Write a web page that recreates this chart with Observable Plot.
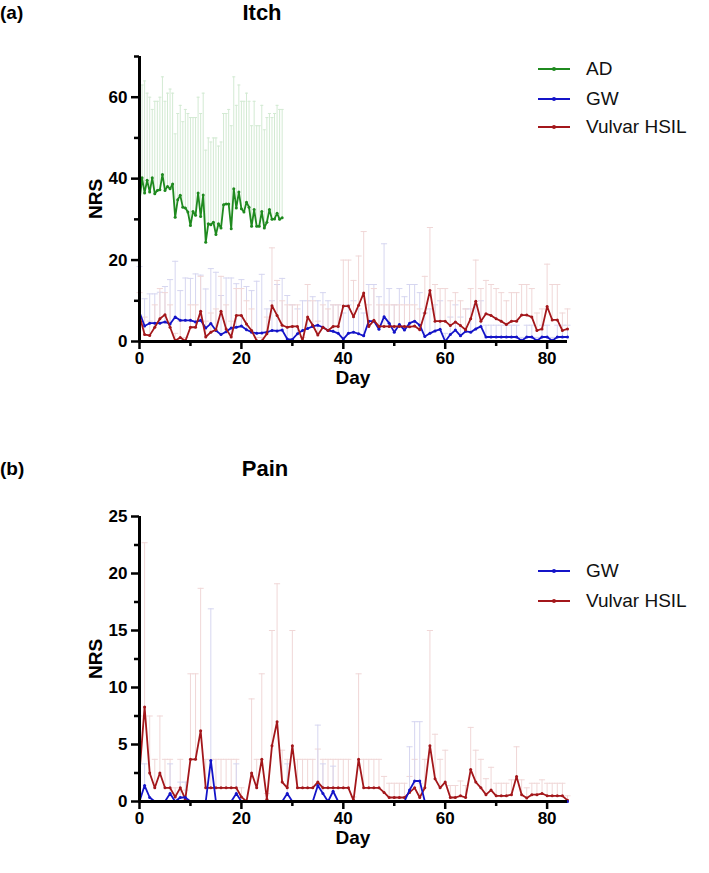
<!DOCTYPE html>
<html><head><meta charset="utf-8">
<script src="https://cdn.jsdelivr.net/npm/d3@7"></script>
<script src="https://cdn.jsdelivr.net/npm/@observablehq/plot@0.6"></script>
<style>
body{margin:0;background:#fff;width:709px;height:873px;position:relative;overflow:hidden;font-family:"Liberation Sans",Arial,sans-serif;}
.abs{position:absolute;white-space:nowrap;}
.plabel{font-weight:bold;font-size:19px;font-family:"Liberation Sans Narrow","Liberation Sans",Arial,sans-serif;}
.title{font-weight:bold;font-size:22px;transform:translateX(-50%);font-family:"Liberation Sans Narrow","Liberation Sans",Arial,sans-serif;}
.axlab{font-weight:bold;font-size:19px;line-height:20px;}
.xlab{transform:translateX(-50%);}
.ylab{transform:translate(-50%,-50%) rotate(-90deg);}
.leg{font-size:19px;color:#111;display:flex;align-items:center;}
.leg svg{margin-right:16px;}
</style></head><body>
<script>
// ---------- data ----------
const days = d3.range(0, 85);            // study day 0..84
const adDays = d3.range(0, 28.5, 0.5);   // AD recorded twice daily, day 0..28

const seriesNames = ["AD", "GW", "Vulvar HSIL"];
const seriesColors = {"AD": "#1f8a1f", "GW": "#1414c8", "Vulvar HSIL": "#a3171b"};
const errColors = {"AD": "#d3ead3", "GW": "#d6d6f0", "Vulvar HSIL": "#f0d7d7"};

const itchAD = [34.2,40.2,36.5,39.6,36.7,40.2,36.3,37.1,37.3,41.0, 37.1,38.1,37.5,38.7,30.5,34.8,35.9,33.0,32.8,31.8,
  28.5,31.9,31.0,36.5,30.7,36.0,24.4,28.9,28.7,29.3, 26.3,28.9,27.9,33.6,33.8,33.8,27.7,37.5,32.8,36.7,
  32.6,31.8,34.2,33.0,28.3,32.4,28.3,28.3,31.9,27.9, 29.3,32.4,30.0,30.1,31.5,30.0,30.4];
const itchADTop = [60,63,64,61,60,57,59,59,60,65, 59,61,62,61,51,56,58,54,57,56, 55,55,55,60,56,61,47,50,49,50,
  50,48,49,56,56,57,53,65,58,63, 59,59,61,59,53,59,53,53,58,52, 55,56,55,56,58,57,57];

const itchGW = [7.2,3.8,4.5,4.5,4.5,4.8,4.3,6.0,5.2,5.2, 5.2,4.8,5.2,3.3,4.4,2.7,1.7,2.4,3.3,3.5,
  3.8,2.9,2.3,2.0,2.1,2.3,2.7,2.6,2.8,0.6, 0.5,1.9,2.7,3.2,3.7,4.0,3.5,2.7,2.5,2.0,
  0.6,2.0,2.3,1.9,1.4,5.0,5.0,3.0,6.1,4.5, 2.3,4.2,2.8,4.5,5.0,4.0,1.2,2.0,2.6,3.0,
  0.0,1.7,2.8,1.4,2.5,2.3,3.1,3.7,1.1,1.1, 1.1,1.1,1.1,1.1,1.1,0.2,1.1,1.1,0.2,1.1, 1.1,0.2,1.1,1.1,1.1];
const itchGWTop = [18.4,10.5,11.7,11.7,12.1,13.5,15.2,19.7,12.5,15.6, 15.5,16.6,16.3,12.9,17.9,17.0,11.3,15.6,15.6,14.2,
  15.2,13.5,12.5,14.8,16.5,8.0,10.0,14.0,15.5,11.3, 9,8,10,10,11,10,12,10,9,9,
  7,9,10,8,7,14,14,11,24,13, 9,13,11,14,14,12,7,8,9,10,
  2,6,9,6,8,8,9,10,4,4, 4,4,4,4,4,1,4,4,1,4, 4,1,4,4,4];

const itchHSIL = [6.4,1.7,1.5,3.5,5.6,6.6,3.5,0.2,1.0,0.1, 3.5,3.5,7.4,1.1,2.3,2.9,7.4,3.1,1.1,6.4,
  6.4,4.3,2.7,0.2,0.1,1.9,8.8,6.4,4.0,3.5, 3.7,3.7,0.2,6.0,4.0,1.6,3.5,2.7,3.7,3.7,
  8.7,8.7,6.1,8.9,11.9,3.7,5.2,3.7,3.7,3.7, 3.7,3.7,3.7,3.6,3.8,2.9,7.0,12.5,5.0,5.0,
  5.0,3.9,4.8,3.9,2.9,5.6,9.9,5.0,6.8,6.4, 5.6,5.0,4.2,5.0,5.0,6.5,6.5,6.0,2.7,3.1, 8.6,5.3,5.3,2.7,3.1];
const itchHSILTop = [12,6,5,9,13,12,9,2,5,1, 9,9,16,5,7,8,16,9,5,13, 13,10,8,1,1,6,23,15,10,9,
  9,9,1,14,10,5,9,8,9,9, 20,20,15,21,27,9,13,9,9,9, 9,9,9,9,9,8,16,28,14,13,
  13,10,12,10,8,13,20,13,15,14, 13,12,10,12,12,14,14,13,7,8, 19,14,14,7,8];

const painGW = [0,1.4,0.35,0,0,0,0.7,0,0.35,0.35, 0,0,0,0,3.6,0,0,0,0,0.7, 0,0,0,0,0,0,0,0,0,0.7,
  0,0,0,0,0,1.4,0.7,0,0.9,0, 0,0,0,0,0,0,0,0,0,0, 0,0,0,1.0,1.8,1.8,0,0,0,0,
  0,0,0,0,0,0,0,0,0,0, 0,0,0,0,0,0,0,0,0,0, 0,0,0,0,0];
const painGWTop = [0,3.3,0.35,0,0,0,3.3,0,1.7,1.7, 0,0,0,0,16.9,0,0,0,0,3.3, 0,0,0,0,0,0,0,0,0,3.3,
  0,0,0,0,0,6.7,3.3,0,3.1,0, 0,0,0,0,0,0,0,0,0,0, 0,0,0,4.8,7.0,7.0,0,0,0,0,
  0,0,0,0,0,0,0,0,0,0, 0,0,0,0,0,0,0,0,0,0, 0,0,0,0,0];

const painHSIL = [2.5,8.3,2.5,1.2,2.5,1.2,1.2,0.4,1.2,0.2, 3.7,3.7,6.2,1.2,1.2,1.2,1.2,1.2,1.2,1.2,
  0.4,0,2.5,1.2,3.7,0.2,4.9,7.0,1.7,1.2, 4.9,1.2,1.2,1.2,1.2,1.7,1.2,1.2,1.2,1.2,
  1.2,1.2,0.1,3.7,1.2,1.2,1.2,1.2,0.8,0.35, 0.35,0.35,0.35,0.8,1.2,0.35,1.2,4.9,2.0,1.2,
  1.7,0.35,0.35,0.5,0.35,2.8,1.7,1.2,0.6,1.0, 0.5,0.5,0.5,0.6,2.2,0.6,0.3,0.6,0.6,0.7, 0.5,0.5,0.5,0.5,0.1];
const painHSILTop = [7.5,22.7,7.5,3.7,7.5,3.7,3.7,1.2,3.7,1.0, 11.2,11.2,18.7,3.7,3.7,3.7,3.7,3.7,3.7,3.7,
  1.2,0,9.0,3.7,11.2,0.7,15.0,19.1,4.5,3.7, 15.0,3.7,3.7,3.7,3.7,4.6,3.7,3.7,3.7,3.7,
  3.7,3.7,0.4,11.2,3.7,3.7,3.7,3.7,2.2,1.6, 1.6,1.6,1.6,2.2,3.7,1.6,3.7,15.0,5.9,3.7,
  4.5,1.4,1.4,1.8,1.4,6.5,4.5,3.7,2.0,3.0, 1.6,1.6,1.6,1.9,4.8,1.9,1.2,1.6,1.6,1.9, 1.6,1.6,1.6,1.6,0.5];

const xTicksMajor = [0, 20, 40, 60, 80];
const xTicksMinor = [10, 30, 50, 70];

// ---------- helpers ----------
const FONT = "'Liberation Sans', Arial, sans-serif";
function rows(x, mean, top, name) {
  return x.map((d, i) => ({day: d, mean: mean[i], top: top[i], name}));
}
function addAbs(text, cls, left, top) {
  const el = document.createElement("div");
  el.className = "abs " + (cls || "");
  el.style.left = left + "px"; el.style.top = top + "px";
  el.textContent = text;
  document.body.appendChild(el);
  return el;
}
function legendItem(name, left, top) {
  const c = seriesColors[name];
  const el = document.createElement("div");
  el.className = "abs leg";
  el.style.left = left + "px"; el.style.top = top + "px";
  el.innerHTML = `<svg width="32" height="10"><line x1="0" x2="32" y1="5" y2="5" stroke="${c}" stroke-width="2"/><circle cx="16" cy="5" r="2" fill="${c}"/></svg>`;
  const s = document.createElement("span"); s.textContent = name; el.appendChild(s);
  document.body.appendChild(el);
}

function panel({top, yMax, yMajor, yMinor, groups}) {
  const marks = [];
  for (const g of groups) {
    const capW = g.step * 0.6;
    marks.push(Plot.ruleX(g.data, {x: "day", y1: "mean", y2: "top", stroke: errColors[g.name], strokeWidth: 1}));
    marks.push(Plot.link(g.data.filter(d => d.top > d.mean), {x1: d => d.day - capW, x2: d => d.day + capW, y1: "top", y2: "top", stroke: errColors[g.name], strokeWidth: 1}));
  }
  for (const g of groups) {
    marks.push(Plot.line(g.data, {x: "day", y: "mean", stroke: seriesColors[g.name], strokeWidth: 1.8}));
    marks.push(Plot.dot(g.data, {x: "day", y: "mean", r: 1.5, fill: seriesColors[g.name], stroke: "none"}));
  }
  marks.push(
    Plot.axisX({ticks: xTicksMajor, tickSize: 8, tickPadding: 2, strokeWidth: 2.5, label: null}),
    Plot.axisX({ticks: xTicksMinor, tickSize: 5, tickFormat: () => "", strokeWidth: 2.5, label: null}),
    Plot.axisY({ticks: yMajor, tickSize: 8, tickPadding: 4, strokeWidth: 2.5, label: null}),
    Plot.axisY({ticks: yMinor, tickSize: 5, tickFormat: () => "", strokeWidth: 2.5, label: null}),
    Plot.ruleY([0], {strokeWidth: 3}),
    Plot.ruleX([0], {strokeWidth: 3})
  );
  const svg = Plot.plot({
    width: 709, height: 345,
    marginLeft: 139, marginRight: 142, marginTop: 16, marginBottom: 44,
    x: {domain: [0, 84]},
    y: {domain: [0, yMax]},
    style: {fontFamily: FONT, fontSize: "17px", fontWeight: "bold", color: "black", background: "transparent", overflow: "visible"},
    marks
  });
  svg.style.position = "absolute";
  svg.style.left = "0px"; svg.style.top = top + "px";
  document.body.appendChild(svg);
  // axis titles (centred on the plot frame)
  const x0 = 139, x1 = 709 - 142, y0 = top + 16, y1 = top + 345 - 44;
  addAbs("Day", "axlab xlab", (x0 + x1) / 2, y1 + 27);
  addAbs("NRS", "axlab ylab", 96, (y0 + y1) / 2);
}

// ---------- panel (a) Itch ----------
addAbs("(a)", "plabel", 0, 2);
addAbs("Itch", "title", 262, 0);
panel({
  top: 40, yMax: 70, yMajor: [0, 20, 40, 60], yMinor: [10, 30, 50, 70],
  groups: [
    {name: "AD", step: 0.5, data: rows(adDays, itchAD, itchADTop, "AD")},
    {name: "GW", step: 1, data: rows(days, itchGW, itchGWTop, "GW")},
    {name: "Vulvar HSIL", step: 1, data: rows(days, itchHSIL, itchHSILTop, "Vulvar HSIL")}
  ]
});
legendItem("AD", 538, 58);
legendItem("GW", 538, 88);
legendItem("Vulvar HSIL", 538, 116);

// ---------- panel (b) Pain ----------
addAbs("(b)", "plabel", 0, 458);
addAbs("Pain", "title", 265, 456);
panel({
  top: 500, yMax: 25, yMajor: [0, 5, 10, 15, 20, 25], yMinor: [2.5, 7.5, 12.5, 17.5, 22.5],
  groups: [
    {name: "Vulvar HSIL", step: 1, data: rows(days, painHSIL, painHSILTop, "Vulvar HSIL")},
    {name: "GW", step: 1, data: rows(days, painGW, painGWTop, "GW")}
  ]
});
legendItem("GW", 538, 560);
legendItem("Vulvar HSIL", 538, 590);
</script>
</body></html>
